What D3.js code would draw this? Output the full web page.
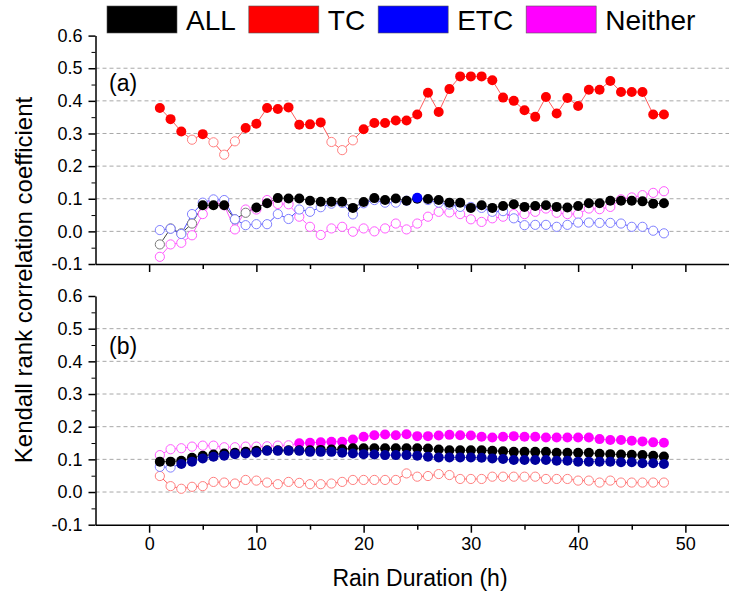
<!DOCTYPE html>
<html>
<head>
<meta charset="utf-8">
<script src="https://cdn.jsdelivr.net/npm/d3@7"></script>
<style>
  body { margin: 0; background: #fff; }
  text { font-family: "Liberation Sans", Arial, sans-serif; }
</style>
</head>
<body>
<div id="chart"></div>
<script>
// rain duration (h)
const hours = [1, 2, 3, 4, 5, 6, 7, 8, 9, 10, 11, 12, 13, 14, 15, 16, 17, 18, 19, 20, 21, 22, 23, 24,
  25, 26, 27, 28, 29, 30, 31, 32, 33, 34, 35, 36, 37, 38, 39, 40, 41, 42, 43, 44, 45, 46, 47, 48];

const seriesNames = ['ALL', 'TC', 'ETC', 'Neither'];
const yTicks = [-0.1, 0.0, 0.1, 0.2, 0.3, 0.4, 0.5, 0.6];
const yMinorTicks = [-0.05, 0.05, 0.15, 0.25, 0.35, 0.45, 0.55];
const gridTicks = [0.0, 0.1, 0.2, 0.3, 0.4, 0.5];
const xTicks = [0, 10, 20, 30, 40, 50];
const xMinorTicks = [5, 15, 25, 35, 45];
const panelLabels = ['(a)', '(b)'];

// panel (a) values, sig = 1 -> filled marker, 0 -> open marker
const allA = [-0.040, 0.009, -0.006, 0.024, 0.080, 0.080, 0.080, 0.037, 0.057, 0.073, 0.086, 0.102,
  0.101, 0.101, 0.094, 0.091, 0.091, 0.091, 0.072, 0.090, 0.102, 0.096, 0.101, 0.094,
  0.100, 0.099, 0.096, 0.088, 0.088, 0.072, 0.080, 0.072, 0.078, 0.083, 0.075, 0.078,
  0.080, 0.075, 0.073, 0.078, 0.086, 0.086, 0.094, 0.094, 0.094, 0.092, 0.085, 0.086];
const allASig = [0, 0, 0, 0, 1, 1, 1, 0, 0, 1, 1, 1, 1, 1, 1, 1, 1, 1, 1, 1, 1, 1, 1, 1,
  1, 1, 1, 1, 1, 1, 1, 1, 1, 1, 1, 1, 1, 1, 1, 1, 1, 1, 1, 1, 1, 1, 1, 1];

const tcA = [0.378, 0.344, 0.306, 0.281, 0.298, 0.273, 0.235, 0.276, 0.317, 0.330, 0.378, 0.375,
  0.380, 0.327, 0.328, 0.334, 0.274, 0.249, 0.279, 0.313, 0.332, 0.332, 0.340, 0.340,
  0.358, 0.425, 0.366, 0.436, 0.475, 0.475, 0.475, 0.463, 0.410, 0.400, 0.371, 0.351,
  0.412, 0.361, 0.409, 0.384, 0.434, 0.434, 0.461, 0.427, 0.427, 0.427, 0.358, 0.358];
const tcASig = [1, 1, 1, 0, 1, 0, 0, 0, 1, 1, 1, 1, 1, 1, 1, 1, 0, 0, 0, 1, 1, 1, 1, 1,
  1, 1, 1, 1, 1, 1, 1, 1, 1, 1, 1, 1, 1, 1, 1, 1, 1, 1, 1, 1, 1, 1, 1, 1];

const etcA = [0.004, 0.008, -0.008, 0.053, 0.088, 0.098, 0.096, 0.037, 0.019, 0.022, 0.022, 0.053,
  0.038, 0.067, 0.060, 0.074, 0.085, 0.087, 0.052, 0.086, 0.096, 0.088, 0.088, 0.094,
  0.103, 0.096, 0.088, 0.082, 0.075, 0.075, 0.072, 0.060, 0.062, 0.040, 0.019, 0.020,
  0.020, 0.014, 0.020, 0.027, 0.027, 0.026, 0.026, 0.024, 0.014, 0.014, 0.002, -0.006];
const etcASig = [0, 0, 0, 0, 0, 0, 0, 0, 0, 0, 0, 0, 0, 0, 0, 0, 0, 0, 0, 0, 0, 0, 0, 0,
  1, 0, 0, 0, 0, 0, 0, 0, 0, 0, 0, 0, 0, 0, 0, 0, 0, 0, 0, 0, 0, 0, 0, 0];

const neitherA = [-0.078, -0.040, -0.035, -0.012, 0.053, 0.091, 0.080, 0.006, 0.067, 0.067, 0.096, 0.084,
  0.083, 0.045, 0.014, -0.011, 0.009, 0.014, -0.001, 0.009, 0.000, 0.009, 0.024, 0.006,
  0.024, 0.045, 0.060, 0.058, 0.053, 0.037, 0.029, 0.040, 0.045, 0.053, 0.053, 0.060,
  0.070, 0.057, 0.053, 0.053, 0.070, 0.068, 0.075, 0.098, 0.104, 0.111, 0.118, 0.123];
const neitherASig = [0, 0, 0, 0, 0, 0, 0, 0, 0, 0, 0, 0, 0, 0, 0, 0, 0, 0, 0, 0, 0, 0, 0, 0,
  0, 0, 0, 0, 0, 0, 0, 0, 0, 0, 0, 0, 0, 0, 0, 0, 0, 0, 0, 0, 0, 0, 0, 0];

// panel (b)
const allB = [0.093, 0.093, 0.096, 0.105, 0.111, 0.115, 0.118, 0.120, 0.123, 0.126, 0.128, 0.128,
  0.128, 0.128, 0.128, 0.129, 0.130, 0.131, 0.134, 0.134, 0.134, 0.134, 0.134, 0.134,
  0.134, 0.133, 0.130, 0.128, 0.128, 0.128, 0.128, 0.126, 0.125, 0.123, 0.123, 0.123,
  0.123, 0.120, 0.120, 0.120, 0.120, 0.117, 0.116, 0.115, 0.114, 0.113, 0.111, 0.109];
const allBSig = [1, 1, 1, 1, 1, 1, 1, 1, 1, 1, 1, 1, 1, 1, 1, 1, 1, 1, 1, 1, 1, 1, 1, 1,
  1, 1, 1, 1, 1, 1, 1, 1, 1, 1, 1, 1, 1, 1, 1, 1, 1, 1, 1, 1, 1, 1, 1, 1];

const tcB = [0.049, 0.018, 0.010, 0.016, 0.018, 0.031, 0.029, 0.026, 0.037, 0.035, 0.029, 0.024,
  0.031, 0.028, 0.024, 0.024, 0.026, 0.031, 0.037, 0.037, 0.037, 0.037, 0.037, 0.057,
  0.047, 0.049, 0.055, 0.052, 0.040, 0.040, 0.040, 0.047, 0.047, 0.047, 0.047, 0.047,
  0.040, 0.040, 0.040, 0.035, 0.035, 0.029, 0.035, 0.029, 0.029, 0.029, 0.029, 0.029];
const tcBSig = [0, 0, 0, 0, 0, 0, 0, 0, 0, 0, 0, 0, 0, 0, 0, 0, 0, 0, 0, 0, 0, 0, 0, 0,
  0, 0, 0, 0, 0, 0, 0, 0, 0, 0, 0, 0, 0, 0, 0, 0, 0, 0, 0, 0, 0, 0, 0, 0];

const etcB = [0.077, 0.075, 0.086, 0.093, 0.103, 0.108, 0.111, 0.116, 0.118, 0.121, 0.126, 0.126,
  0.126, 0.126, 0.123, 0.123, 0.123, 0.120, 0.118, 0.116, 0.115, 0.113, 0.113, 0.113,
  0.111, 0.108, 0.106, 0.106, 0.106, 0.106, 0.105, 0.103, 0.101, 0.098, 0.098, 0.098,
  0.098, 0.096, 0.096, 0.093, 0.093, 0.093, 0.093, 0.091, 0.091, 0.088, 0.088, 0.086];
const etcBSig = [0, 0, 1, 1, 1, 1, 1, 1, 1, 1, 1, 1, 1, 1, 1, 1, 1, 1, 1, 1, 1, 1, 1, 1,
  1, 1, 1, 1, 1, 1, 1, 1, 1, 1, 1, 1, 1, 1, 1, 1, 1, 1, 1, 1, 1, 1, 1, 1];

const neitherB = [0.113, 0.131, 0.134, 0.139, 0.142, 0.142, 0.137, 0.137, 0.139, 0.139, 0.140, 0.142,
  0.143, 0.149, 0.151, 0.152, 0.154, 0.154, 0.161, 0.169, 0.174, 0.176, 0.174, 0.177,
  0.171, 0.171, 0.173, 0.175, 0.174, 0.173, 0.169, 0.167, 0.169, 0.171, 0.169, 0.169,
  0.167, 0.167, 0.167, 0.167, 0.167, 0.162, 0.159, 0.159, 0.157, 0.155, 0.152, 0.151];
const neitherBSig = [0, 0, 0, 0, 0, 0, 0, 0, 0, 0, 0, 0, 0, 1, 1, 1, 1, 1, 1, 1, 1, 1, 1, 1,
  1, 1, 1, 1, 1, 1, 1, 1, 1, 1, 1, 1, 1, 1, 1, 1, 1, 1, 1, 1, 1, 1, 1, 1];

const width = 729;
const height = 593;

// fill / open-ring / line colour for each series
const styles = {
  ALL: { fill: '#000000', open: '#7a7a7a', line: '#444444', legend: '#000000' },
  TC: { fill: '#ff0000', open: '#ff8080', line: '#ff5c5c', legend: '#ff0000' },
  ETC: { fill: '#0000ff', open: '#8080ff', line: '#4d4dff', legend: '#0000ff' },
  Neither: { fill: '#ff00ff', open: '#ff5cff', line: '#ff5cff', legend: '#ff00ff' }
};

function zipSeries(name, values, sig, fill) {
  return { name, fill: fill || styles[name].fill, points: hours.map((h, i) => ({ h, v: values[i], sig: sig[i] })) };
}

const panels = [
  {
    label: panelLabels[0], top: 35.6, bottom: 264,
    xLabels: false,
    series: [
      zipSeries('Neither', neitherA, neitherASig),
      zipSeries('ALL', allA, allASig),
      zipSeries('ETC', etcA, etcASig),
      zipSeries('TC', tcA, tcASig)
    ]
  },
  {
    label: panelLabels[1], top: 296, bottom: 524.7,
    xLabels: true,
    series: [
      zipSeries('TC', tcB, tcBSig),
      zipSeries('Neither', neitherB, neitherBSig),
      zipSeries('ALL', allB, allBSig),
      zipSeries('ETC', etcB, etcBSig, '#00009c')
    ]
  }
];

const svg = d3.select('#chart').append('svg')
  .attr('width', width)
  .attr('height', height);

const x = d3.scaleLinear().domain([-5, 55]).range([95.5, 739]);
const fmt = d => d.toFixed(1);

panels.forEach(p => {
  const y = d3.scaleLinear().domain([-0.1, 0.6]).range([p.bottom, p.top]);
  const g = svg.append('g');

  // dashed grid
  g.selectAll('.grid')
    .data(gridTicks)
    .enter().append('line')
    .attr('x1', x(-5)).attr('x2', width)
    .attr('y1', d => y(d)).attr('y2', d => y(d))
    .attr('stroke', '#a8a8a8')
    .attr('stroke-width', 1)
    .attr('stroke-dasharray', '4,3');

  // y axis
  g.append('g')
    .attr('transform', `translate(${x(-5)},0)`)
    .call(d3.axisLeft(y).tickValues(yMinorTicks).tickSize(4).tickFormat(''))
    .call(a => a.select('.domain').remove());
  const yAxis = g.append('g')
    .attr('transform', `translate(${x(-5)},0)`)
    .call(d3.axisLeft(y).tickValues(yTicks).tickSize(7).tickSizeOuter(0).tickPadding(6).tickFormat(fmt));
  yAxis.attr('font-size', 18).attr('font-family', '"Liberation Sans", Arial, sans-serif');
  yAxis.selectAll('path, line').attr('stroke-width', 1.5);

  // x axis
  g.append('g')
    .attr('transform', `translate(0,${p.bottom})`)
    .call(d3.axisBottom(x).tickValues(xMinorTicks).tickSize(5).tickFormat(''))
    .call(a => a.select('.domain').remove())
    .selectAll('line').attr('stroke-width', 1.5);
  const xAxis = g.append('g')
    .attr('transform', `translate(0,${p.bottom})`)
    .call(d3.axisBottom(x).tickValues(xTicks).tickSize(8).tickSizeOuter(0).tickPadding(5)
      .tickFormat(p.xLabels ? d3.format('d') : ''));
  xAxis.attr('font-size', 18).attr('font-family', '"Liberation Sans", Arial, sans-serif');
  xAxis.selectAll('path, line').attr('stroke-width', 1.5);

  g.append('text')
    .attr('x', 109)
    .attr('y', p.top + (p.label === '(a)' ? 55 : 58))
    .attr('font-size', 23)
    .text(p.label);

  const line = d3.line()
    .x(d => x(d.h))
    .y(d => y(d.v));

  // lines first, then open markers, then filled markers on top
  p.series.forEach(s => {
    g.append('path')
      .datum(s.points)
      .attr('fill', 'none')
      .attr('stroke', styles[s.name].line)
      .attr('stroke-width', 1)
      .attr('d', line);
  });
  p.series.forEach(s => {
    g.selectAll(null)
      .data(s.points.filter(d => !d.sig))
      .enter().append('circle')
      .attr('cx', d => x(d.h))
      .attr('cy', d => y(d.v))
      .attr('r', 4.6)
      .attr('fill', '#fff')
      .attr('stroke', styles[s.name].open)
      .attr('stroke-width', 1);
  });
  p.series.forEach(s => {
    g.selectAll(null)
      .data(s.points.filter(d => d.sig))
      .enter().append('circle')
      .attr('cx', d => x(d.h))
      .attr('cy', d => y(d.v))
      .attr('r', 5)
      .attr('fill', s.fill);
  });
});

// legend across the top
const legend = svg.append('g').attr('font-size', 28);
let lx = 107;
seriesNames.forEach(name => {
  legend.append('rect')
    .attr('x', lx).attr('y', 6)
    .attr('width', 70).attr('height', 27)
    .attr('fill', styles[name].legend)
    .attr('stroke', '#555').attr('stroke-width', 0.6);
  const t = legend.append('text')
    .attr('x', lx + 79).attr('y', 30)
    .text(name);
  lx += 79 + t.node().getComputedTextLength() + 13;
});

// axis titles
svg.append('text')
  .attr('transform', 'translate(32,280) rotate(-90)')
  .attr('text-anchor', 'middle')
  .attr('font-size', 24)
  .text('Kendall rank correlation coefficient');

svg.append('text')
  .attr('x', 420).attr('y', 586)
  .attr('text-anchor', 'middle')
  .attr('font-size', 23)
  .text('Rain Duration (h)');
</script>
</body>
</html>
